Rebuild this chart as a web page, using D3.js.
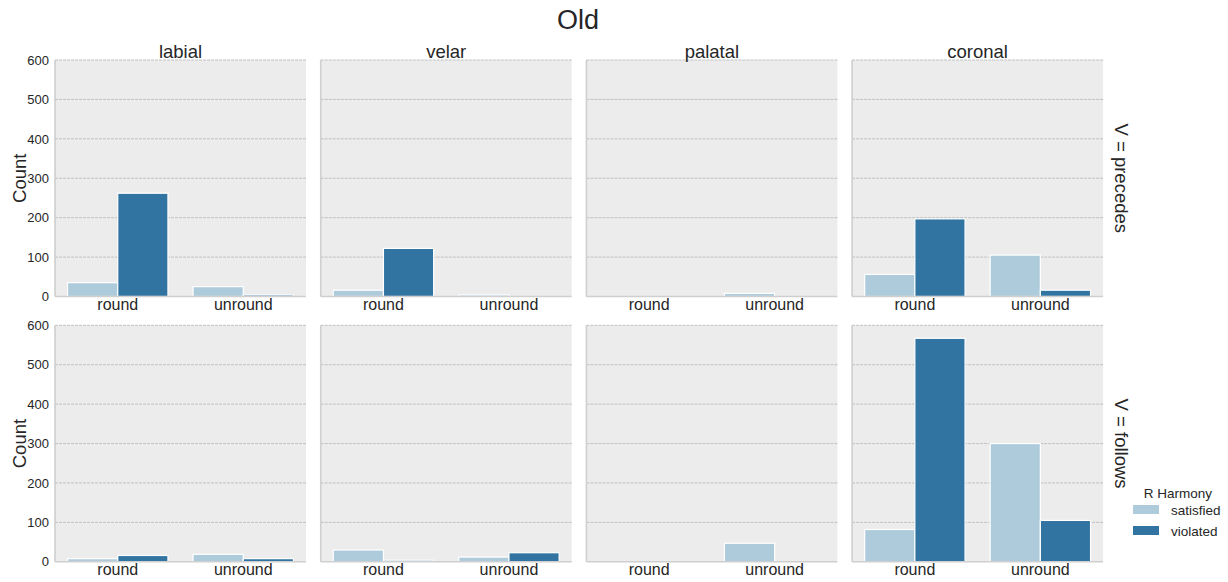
<!DOCTYPE html>
<html>
<head>
<meta charset="utf-8">
<script src="https://cdn.jsdelivr.net/npm/d3@7"></script>
<style>
  html, body { margin: 0; padding: 0; background: #ffffff; }
  svg { display: block; font-family: "Liberation Sans", Arial, sans-serif; }
</style>
</head>
<body>
<svg id="chart" width="1228" height="582"></svg>
<script>
// Facet columns (place of articulation) and rows (vowel position)
const places = ["labial", "velar", "palatal", "coronal"];
const positions = ["precedes", "follows"];
const vowels = ["round", "unround"];
const harmony = ["satisfied", "violated"];
const yTicks = [0, 100, 200, 300, 400, 500, 600];

// Counts per row, per column: [round-satisfied, round-violated, unround-satisfied, unround-violated]
const precedesCounts = {
  labial:  [35, 262, 25, 4],
  velar:   [16, 122, 4, 0],
  palatal: [0, 0, 8, 0],
  coronal: [56, 197, 105, 16]
};
const followsCounts = {
  labial:  [8, 16, 19, 8],
  velar:   [30, 4, 12, 23],
  palatal: [0, 0, 47, 0],
  coronal: [82, 567, 300, 105]
};

const colors = { satisfied: "#aecbdc", violated: "#3274a1" };

const svg = d3.select("#chart");

const panelW = 251, panelH = 236.5, gapX = 14.7;
const left0 = 55;
const rowTop = { precedes: 60, follows: 325.3 };

const y = d3.scaleLinear().domain([0, 600]).range([panelH, 0]);
const x0 = d3.scaleBand().domain(vowels).range([0, panelW]).paddingInner(0).paddingOuter(0);
const x1 = d3.scaleBand().domain(harmony).range([0, x0.bandwidth() * 0.8]);

// Figure title
svg.append("text")
  .attr("x", 578).attr("y", 29)
  .attr("text-anchor", "middle")
  .attr("font-size", 27).attr("fill", "#262626")
  .text("Old");

positions.forEach((pos, ri) => {
  const counts = pos === "precedes" ? precedesCounts : followsCounts;
  places.forEach((place, ci) => {
    const px = left0 + ci * (panelW + gapX);
    const py = rowTop[pos];
    const g = svg.append("g").attr("transform", `translate(${px},${py})`);

    g.append("rect")
      .attr("width", panelW).attr("height", panelH)
      .attr("fill", "#ececec");

    // horizontal grid
    g.selectAll("line.grid").data(yTicks.filter(t => t > 0)).join("line")
      .attr("class", "grid")
      .attr("x1", 0).attr("x2", panelW)
      .attr("y1", d => y(d)).attr("y2", d => y(d))
      .attr("stroke", "#bcbcbc").attr("stroke-width", 0.9)
      .attr("stroke-dasharray", "3,1");

    // bars
    const vals = counts[place];
    const rows = [];
    vowels.forEach((v, vi) => harmony.forEach((h, hi) => {
      rows.push({ v, h, value: vals[vi * 2 + hi] });
    }));
    g.selectAll("rect.bar").data(rows.filter(d => d.value > 0)).join("rect")
      .attr("class", "bar")
      .attr("x", d => x0(d.v) + x0.bandwidth() * 0.1 + x1(d.h))
      .attr("width", x1.bandwidth())
      .attr("y", d => y(d.value))
      .attr("height", d => y(0) - y(d.value))
      .attr("fill", d => colors[d.h])
      .attr("stroke", "#ffffff").attr("stroke-width", 1.2);

    // spines (left and bottom)
    g.append("line").attr("x1", 0).attr("x2", 0).attr("y1", 0).attr("y2", panelH)
      .attr("stroke", "#cfcfcf").attr("stroke-width", 1.6);
    g.append("line").attr("x1", 0).attr("x2", panelW).attr("y1", panelH).attr("y2", panelH)
      .attr("stroke", "#cfcfcf").attr("stroke-width", 1.6);

    // x tick labels
    const xAxis = d3.axisBottom(x0).tickSize(0).tickPadding(2);
    const xa = g.append("g").attr("transform", `translate(0,${panelH})`).call(xAxis);
    xa.select(".domain").remove();
    xa.selectAll("text").attr("font-size", 16).attr("fill", "#262626")
      .attr("font-family", "'Liberation Sans', Arial, sans-serif");

    // y tick labels on first column
    if (ci === 0) {
      const yAxis = d3.axisLeft(y).tickValues(yTicks).tickSize(0).tickPadding(6);
      const ya = g.append("g").call(yAxis);
      ya.select(".domain").remove();
      ya.selectAll("text").attr("font-size", 13).attr("fill", "#262626")
        .attr("font-family", "'Liberation Sans', Arial, sans-serif");
      g.append("text")
        .attr("transform", `translate(-29,${panelH / 2}) rotate(-90)`)
        .attr("text-anchor", "middle")
        .attr("font-size", 18.5).attr("fill", "#262626")
        .text("Count");
    }

    // column titles on top row
    if (ri === 0) {
      g.append("text")
        .attr("x", panelW / 2).attr("y", -2)
        .attr("text-anchor", "middle")
        .attr("font-size", 18.5).attr("fill", "#262626")
        .text(place);
    }

    // row titles on last column
    if (ci === places.length - 1) {
      g.append("text")
        .attr("transform", `translate(${panelW + 12},${panelH / 2}) rotate(90)`)
        .attr("text-anchor", "middle")
        .attr("font-size", 18.5).attr("fill", "#262626")
        .text(`V = ${pos}`);
    }
  });
});

// Legend
const lg = svg.append("g").attr("transform", "translate(1133,493)");
lg.append("text").attr("x", 45).attr("y", 5)
  .attr("text-anchor", "middle").attr("font-size", 13.5).attr("fill", "#262626")
  .text("R Harmony");
harmony.forEach((h, i) => {
  lg.append("rect").attr("x", 0).attr("y", 12 + i * 21).attr("width", 26).attr("height", 9)
    .attr("fill", colors[h]);
  lg.append("text").attr("x", 38).attr("y", 21.5 + i * 21)
    .attr("font-size", 13.5).attr("fill", "#262626").text(h);
});
</script>
</body>
</html>
